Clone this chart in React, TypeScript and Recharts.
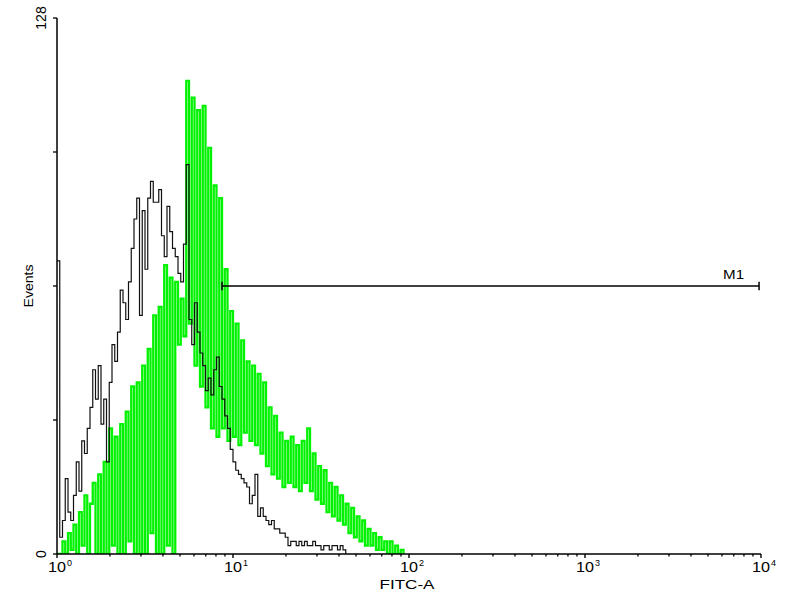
import { LineChart, Line, XAxis, YAxis, ReferenceLine } from 'recharts';

// flow histogram: 64 channels per decade, 10^0 .. 10^4
const CHANNELS_PER_DECADE = 64;

// counts per channel starting at channel 0 (= 10^0)
const controlCounts = [
  70, 4, 8, 18, 10, 8, 14, 22, 15, 27,
  24, 30, 35, 44, 37, 45, 31, 37, 22, 41,
  50, 46, 53, 63, 60, 56, 65, 73, 80, 85,
  57, 82, 68, 85, 89, 84, 84, 87, 76, 71,
  83, 77, 73, 71, 67, 65, 74, 93, 56, 50,
  60, 53, 48, 45, 39, 42, 38, 44, 47, 40,
  37, 33, 30, 25, 22, 20, 19, 18, 17, 16,
  12, 14, 19, 9, 11, 9, 8, 7, 8, 6,
  6, 5, 5, 4, 2, 3, 3, 2, 3, 2,
  3, 2, 2, 3, 2, 2, 1, 2, 2, 1,
  2, 2, 1, 2, 1, 0,
];

const stainedCounts = [
  0, 0, 3, 0, 5, 1, 7, 0, 10, 2,
  14, 0, 12, 17, 0, 19, 0, 22, 0, 30,
  2, 28, 0, 31, 0, 34, 3, 40, 0, 41,
  0, 45, 0, 49, 5, 57, 0, 59, 0, 69,
  2, 66, 0, 65, 50, 61, 52, 113, 55, 109,
  45, 106, 40, 107, 35, 97, 30, 88, 28, 85,
  30, 68, 27, 58, 28, 55, 26, 51, 29, 46,
  27, 45, 26, 43, 24, 41, 21, 35, 19, 33,
  18, 29, 16, 27, 17, 28, 16, 26, 15, 27,
  17, 30, 15, 24, 13, 21, 12, 20, 10, 17,
  9, 16, 8, 14, 7, 12, 5, 11, 4, 9,
  3, 8, 2, 6, 2, 5, 1, 4, 1, 3,
  0, 3, 0, 2, 0, 1, 0,
];

const decadeTicks = [1, 10, 100, 1000, 10000];
const minorTicks = [
  2, 3, 4, 5, 6, 7, 8, 9,
  20, 30, 40, 50, 60, 70, 80, 90,
  200, 300, 400, 500, 600, 700, 800, 900,
  2000, 3000, 4000, 5000, 6000, 7000, 8000, 9000,
];
const countTicks = [0, 32, 64, 96, 128];
const labelledCounts = [0, 128];

// M1 gate
const M1_FROM = 8.66;
const M1_TO = 9750;
const M1_LEVEL = 64;

const FONT = '"Liberation Sans", Arial, sans-serif';
const GREEN = '#00f200';
const BLACK = '#111';

const toPoints = (counts: number[]) =>
  counts.map((y, ch) => ({ x: Math.pow(10, ch / CHANNELS_PER_DECADE), y }));

const controlData = toPoints(controlCounts);
const stainedData = toPoints(stainedCounts);

function FluorTick({ x, y, payload }: any) {
  const v = payload.value;
  const exp = Math.round(Math.log10(v));
  const major = decadeTicks.includes(v);
  if (!major) {
    return <line x1={x} x2={x} y1={y} y2={y + 2.5} stroke="#000" strokeWidth={1.3} />;
  }
  return (
    <g fontFamily={FONT}>
      <line x1={x} x2={x} y1={y} y2={y + 4} stroke="#000" strokeWidth={1.4} />
      <text x={x} y={y + 18} textAnchor="middle" fontSize={14} fill="#000"
        textLength={18} lengthAdjust="spacingAndGlyphs">10</text>
      <text x={x + 10} y={y + 12} fontSize={9} fill="#000">{exp}</text>
    </g>
  );
}

function CountTick({ x, y, payload }: any) {
  const show = labelledCounts.includes(payload.value);
  return (
    <g fontFamily={FONT}>
      <line x1={x - 4} x2={x} y1={y} y2={y} stroke="#000" strokeWidth={1.3} />
      {show && (
        <text transform={`translate(${x - 11},${y}) rotate(-90)`} textAnchor="middle"
          fontSize={14} fill="#000">{payload.value}</text>
      )}
    </g>
  );
}

function M1Label({ viewBox }: any) {
  const right = viewBox.x + viewBox.width;
  return (
    <text x={right - 36} y={viewBox.y - 7} fontSize={12} fontFamily={FONT} fill="#000"
      textLength={21} lengthAdjust="spacingAndGlyphs">M1</text>
  );
}

export default function App() {
  return (
    <div style={{ position: 'absolute', left: 0, top: 0, width: 800, height: 600, background: '#fff' }}>
      <LineChart width={800} height={600} margin={{ top: 18, right: 39, bottom: 0, left: 0 }}>
        <XAxis
          type="number"
          dataKey="x"
          scale="log"
          domain={[1, 10000]}
          ticks={[...decadeTicks, ...minorTicks].sort((a, b) => a - b)}
          interval={0}
          height={46}
          tickSize={0}
          tickMargin={0}
          tickLine={false}
          tick={<FluorTick />}
          axisLine={{ stroke: '#000', strokeWidth: 1.5 }}
          allowDataOverflow
          label={(p: any) => (
            <text x={p.viewBox.x + p.viewBox.width / 2 - 2} y={p.viewBox.y + 35} textAnchor="middle"
              fontSize={13} fontFamily={FONT} fill="#000" textLength={55} lengthAdjust="spacingAndGlyphs">
              FITC-A
            </text>
          )}
        />
        <YAxis
          type="number"
          dataKey="y"
          domain={[0, 128]}
          ticks={countTicks}
          interval={0}
          width={57}
          tickSize={0}
          tickMargin={0}
          tickLine={false}
          tick={<CountTick />}
          axisLine={{ stroke: '#000', strokeWidth: 1.5 }}
          allowDataOverflow
          label={(p: any) => (
            <text transform={`translate(33,${p.viewBox.y + p.viewBox.height / 2}) rotate(-90)`}
              textAnchor="middle" fontSize={13} fontFamily={FONT} fill="#000"
              textLength={43} lengthAdjust="spacingAndGlyphs">
              Events
            </text>
          )}
        />
        <Line
          data={stainedData}
          dataKey="y"
          type="stepAfter"
          stroke={GREEN}
          strokeWidth={2.3}
          dot={false}
          activeDot={false}
          isAnimationActive={false}
        />
        <Line
          data={controlData}
          dataKey="y"
          type="stepAfter"
          stroke={BLACK}
          strokeWidth={1.2}
          dot={false}
          activeDot={false}
          isAnimationActive={false}
        />
        <ReferenceLine
          segment={[{ x: M1_FROM, y: M1_LEVEL }, { x: M1_TO, y: M1_LEVEL }]}
          stroke="#000"
          strokeWidth={1.3}
          label={(p: any) => <M1Label {...p} />}
        />
        <ReferenceLine
          segment={[{ x: M1_FROM, y: M1_LEVEL - 1 }, { x: M1_FROM, y: M1_LEVEL + 1 }]}
          stroke="#000"
          strokeWidth={1.5}
        />
        <ReferenceLine
          segment={[{ x: M1_TO, y: M1_LEVEL - 1 }, { x: M1_TO, y: M1_LEVEL + 1 }]}
          stroke="#000"
          strokeWidth={1.5}
        />
      </LineChart>
    </div>
  );
}
